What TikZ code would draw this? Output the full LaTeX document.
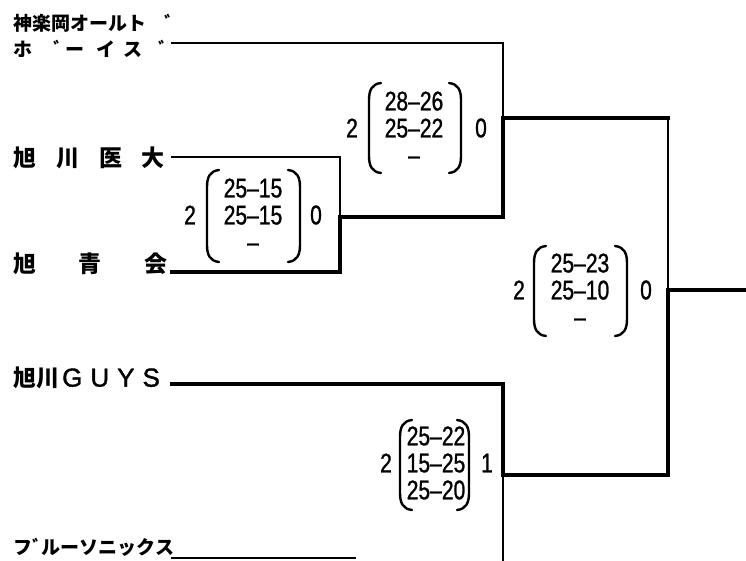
\documentclass[tikz,border=0pt]{standalone}
\usepackage{fontspec}
\setmainfont{Liberation Sans}
\newfontfamily\jp{Noto Sans CJK JP}
\newfontfamily\digits[FakeStretch=0.78,FakeBold=1]{Liberation Sans}
\newfontfamily\latin[FakeBold=1.5]{Liberation Sans}
\newcommand\parenpair[4]{%
  \draw[paren] ({#1+12},#3) .. controls ({#1+3},{#3+1}) and (#1,{#3+7}) .. (#1,{#3+17}) -- (#1,{#4-17}) .. controls (#1,{#4-7}) and ({#1+3},{#4-1}) .. ({#1+12},#4);
  \draw[paren] ({#2-12},#3) .. controls ({#2-3},{#3+1}) and (#2,{#3+7}) .. (#2,{#3+17}) -- (#2,{#4-17}) .. controls (#2,{#4-7}) and ({#2-3},{#4-1}) .. ({#2-12},#4);
}
\begin{document}
\begin{tikzpicture}[x=1pt,y=-1pt,
  thinline/.style={line width=1.8pt, line cap=rect},
  thickline/.style={line width=3.6pt, line cap=rect},
  teamA/.style={anchor=west, inner sep=0pt, font=\jp\bfseries\fontsize{19}{19}\selectfont},
  teamB/.style={anchor=west, inner sep=0pt, font=\jp\bfseries\fontsize{23}{23}\selectfont},
  score/.style={inner sep=0pt, align=center, font=\digits\mdseries\fontsize{27}{27}\selectfont},
  num/.style={inner sep=0pt, font=\digits\mdseries\fontsize{27}{27}\selectfont},
  paren/.style={line width=2.4pt, line cap=round}
]
\useasboundingbox (0,0) rectangle (746,560);
\fill[white] (0,0) rectangle (746,560);

% teams
\node[teamA] (kag1) at (13,23) {神楽岡オールト\hspace{18pt}ﾞ};
\node[teamA] (kag2) at (13,49) {ホ\hspace{21pt}ﾞ\hspace{3pt}ー\hspace{12pt}イ\hspace{8pt}ス\hspace{16pt}ﾞ};
\node[teamB] (asi) at (13,158) {旭\hspace{20pt}川\hspace{20pt}医\hspace{19pt}大};
\node[teamB] (asa) at (13,264) {旭\hspace{42pt}青\hspace{43pt}会};
\node[teamB] (guy) at (13,378) {旭川\hspace{3pt}{\latin\mdseries\fontsize{26}{26}\selectfont G\hspace{8pt}U\hspace{8pt}Y\hspace{8pt}S}};
\node[teamA] (blu) at (13,547) {フﾞルーソニックス};

% junction coordinates
\coordinate (a1) at (172,43);  \coordinate (j1) at (503,43);
\coordinate (b1) at (172,157); \coordinate (j2) at (340,157);
\coordinate (c1) at (172,272); \coordinate (j3) at (340,272);
\coordinate (m1) at (340,217); \coordinate (m1r) at (503,217);
\coordinate (m2) at (503,118); \coordinate (m2r) at (668,118);
\coordinate (f) at (668,290);  \coordinate (fr) at (746,290);
\coordinate (d1) at (172,384); \coordinate (j4) at (503,384);
\coordinate (m3) at (503,475); \coordinate (m3r) at (668,475);
\coordinate (e1) at (172,558); \coordinate (e2) at (355,558);
\coordinate (bot) at (503,562);

% bracket lines
\draw[thinline] (a1) -- (j1) -- (m2);
\draw[thickline] (m2) -- (m1r);
\draw[thickline] (m1) -- (m1r);
\draw[thinline] (b1) -- (j2) -- (m1);
\draw[thickline] (m1) -- (j3) -- (c1);
\draw[thickline] (m2) -- (m2r);
\draw[thinline] (m2r) -- (f);
\draw[thickline] (f) -- (m3r);
\draw[thickline] (f) -- (fr);
\draw[thickline] (d1) -- (j4) -- (m3) -- (m3r);
\draw[thinline] (m3) -- (bot);
\draw[thinline] (e1) -- (e2);

% match 1
\node[num] (s1l) at (190,215) {2};
\node[score] (s1) at (253,215) {25–15\\25–15\\–};
\node[num] (s1r) at (316,215) {0};
\parenpair{207}{300}{170}{262}

% match 2
\node[num] (s2l) at (352,128) {2};
\node[score] (s2) at (414,128) {28–26\\25–22\\–};
\node[num] (s2r) at (481,128) {0};
\parenpair{369}{461}{83}{173}

% final
\node[num] (s3l) at (519,290) {2};
\node[score] (s3) at (580,290) {25–23\\25–10\\–};
\node[num] (s3r) at (646,290) {0};
\parenpair{534}{627}{246}{336}

% match 3
\node[num] (s4l) at (386,463) {2};
\node[score] (s4) at (436,463) {25–22\\15–25\\25–20};
\node[num] (s4r) at (487,463) {1};
\parenpair{400}{469}{420}{510}
\end{tikzpicture}
\end{document}
